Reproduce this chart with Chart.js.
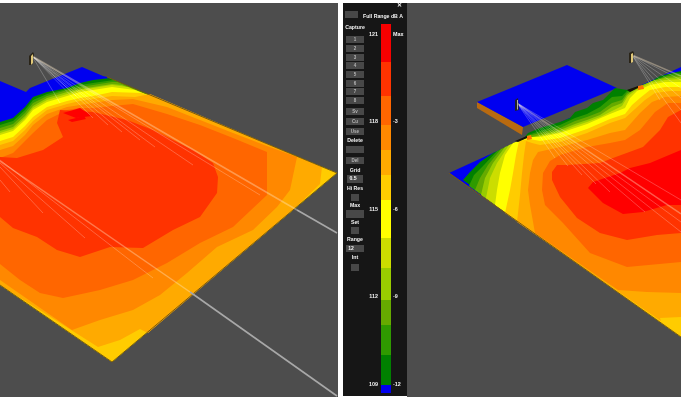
<!DOCTYPE html>
<html><head><meta charset="utf-8">
<style>html,body{margin:0;padding:0;background:#fff;overflow:hidden}#w{position:absolute;left:0;top:0;width:681px;height:400px}canvas{filter:blur(.55px)}</style>
<script src="https://cdn.jsdelivr.net/npm/chart.js@4/dist/chart.umd.min.js"></script>
</head><body><div id="w"><canvas id="c" width="681" height="400"></canvas></div>
<script>
const blue='#0000f0',g0='#008000',g1='#2f9a00',g2='#66aa00',g3='#99cc00',g4='#ccdd00',y0='#ffff00',y1='#ffcc00',a0='#ffaa00',o0='#ff8800',o1='#ff6600',r0='#ff3300',r1='#ff0000';
const panelLeft=[[0,3],[338,3],[338,397],[0,397]];
const panelRight=[[407,3],[681,3],[681,397],[407,397]];
const panelCtl=[[343,3],[407,3],[407,396],[343,396]];
// left floor
const L_blue=[[0,81],[26,92],[30,88],[82,67],[103,76],[107,77],[337,173],[112,362],[0,285]];
const L_g0=[[0,122],[13,118],[25,107],[33,97],[47,92],[67,88],[80,83],[93,80],[110,78],[337,173],[112,362],[0,285]];
const L_g1=[[0,125],[13,121],[25,110],[33,100],[47,94],[67,89],[80,85],[93,83],[114,80],[337,173],[112,362],[0,285]];
const L_g2=[[0,128],[13,124],[25,113],[33,103],[47,96],[67,90],[80,87],[93,85],[112,82],[118,82],[337,173],[112,362],[0,285]];
const L_g3=[[0,131],[13,127],[25,116],[33,106],[47,98],[67,92],[80,89],[93,87],[112,84],[122,85],[337,173],[112,362],[0,285]];
const L_g4=[[0,133],[13,129],[25,118],[33,108],[47,100],[67,94],[80,90],[93,88],[112,85],[128,87],[337,173],[112,362],[0,285]];
const L_y0=[[0,135],[13,131],[25,120],[33,110],[47,102],[67,96],[80,92],[93,90],[112,87],[135,90],[337,173],[112,362],[0,285]];
const L_y1=[[0,141],[13,137],[25,126],[33,117],[47,107],[67,101],[80,98],[93,96],[112,92],[142,93],[337,173],[112,362],[0,285]];
const L_a0=[[0,145],[13,141],[25,130],[33,121],[47,110],[67,104],[80,101],[93,99],[112,96],[135,97],[150,94],[322,167],[320,184],[293,210],[148,333],[140,329],[120,340],[98,347],[0,285]];
const L_o0=[[0,150],[13,146],[25,135],[33,125],[47,114],[67,107],[80,105],[93,103],[112,100],[133,99],[167,107],[200,120],[233,133],[267,146],[297,157],[290,190],[277,207],[253,230],[217,247],[187,273],[160,295],[133,310],[100,320],[72,330],[0,280]];
const L_o1=[[0,158],[13,153],[25,141],[33,133],[47,120],[67,110],[80,108],[93,108],[112,106],[133,104],[167,114],[200,125],[233,138],[267,152],[267,195],[233,227],[200,243],[167,263],[133,280],[100,290],[63,298],[40,293],[20,280],[0,264]];
const L_r0=[[0,157],[17,158],[43,150],[63,137],[57,123],[60,110],[93,112],[127,120],[153,130],[173,140],[193,150],[213,163],[218,177],[217,193],[200,217],[173,230],[143,248],[110,247],[80,257],[57,250],[37,237],[13,228],[0,217]];
const L_r1a=[[63,113],[80,108],[92,116],[76,118]];
const L_r1b=[[68,120],[84,116],[86,119],[72,122]];
// right floor
const R_sideA=[[477,102],[477,108],[522,135],[523,127]];
const R_plateA=[[477,102],[567,65],[617,88],[523,127]];
const R_floorA=[[449,173],[681,67],[681,337]];
const R_g0=[[463,180],[470,172],[480,162],[493,153],[523,139],[528,133],[540,128],[560,122],[570,118],[575,112],[587,108],[593,103],[603,100],[615,88],[627,90],[640,86],[650,82],[660,76],[681,71],[681,337]];
const R_g1=[[469,186],[474,175],[484,165],[497,151],[524,139],[528,135],[540,131],[560,125],[575,118],[587,114],[600,107],[612,97],[622,96],[627,91],[645,84],[660,78],[670,74],[681,73],[681,337]];
const R_g2=[[475,190],[480,178],[488,165],[501,149],[524,139],[528,136],[540,133],[560,128],[575,121],[587,117],[600,112],[612,103],[622,100],[627,93],[640,87],[655,80],[668,76],[681,75],[681,337]];
const R_g3=[[481,195],[485,178],[493,163],[505,147],[525,139],[528,138],[540,135],[560,130],[575,124],[587,120],[600,115],[612,107],[622,103],[627,95],[636,88],[652,81],[665,78],[681,77],[681,337]];
const R_g4=[[486,198],[490,178],[497,163],[509,145],[526,139],[540,136],[560,132],[575,126],[587,122],[600,117],[612,111],[622,106],[628,96],[636,90],[650,83],[665,80],[681,79],[681,337]];
const R_y0=[[495,205],[497,190],[500,173],[505,155],[513,143],[530,137],[540,137],[560,133],[587,124],[610,114],[625,108],[630,98],[637,91],[650,85],[665,82],[681,82],[681,337]];
const R_y1=[[505,213],[510,190],[513,173],[516,155],[519,141],[530,139],[540,141],[560,138],[587,129],[610,119],[625,114],[632,105],[640,98],[650,90],[665,87],[681,87],[681,337]];
const R_a0=[[517,222],[520,195],[522,173],[524,155],[526,141],[532,143],[540,145],[560,142],[587,133],[610,123],[625,118],[635,109],[645,100],[655,93],[670,91],[681,91],[681,317],[660,318],[661,321]];
const R_o0=[[535,233],[530,205],[528,190],[530,173],[533,160],[538,152],[560,147],[587,140],[610,133],[625,130],[640,113],[652,102],[665,97],[681,96],[681,293],[647,292],[618,290]];
const R_o1=[[545,205],[542,190],[543,173],[550,161],[560,155],[587,147],[610,143],[625,140],[640,130],[655,112],[668,103],[681,103],[681,262],[627,267],[590,253],[563,223]];
const R_r0=[[560,197],[552,180],[552,172],[557,165],[567,165],[600,163],[613,158],[643,147],[660,130],[668,117],[681,110],[681,233],[657,235],[627,240],[600,233],[577,218]];
const R_r1=[[588,188],[593,182],[620,173],[630,168],[650,163],[681,150],[681,205],[667,205],[643,212],[623,214],[603,203]];
const R_spot1=[[515,141],[527,136],[527,138],[518,142]];
const R_spot1o=[[527,136],[531,135],[532,139],[527,140]];
const R_spot2=[[627,90],[638,86],[638,88],[630,92]];
const R_spot2o=[[638,86],[643,85],[644,89],[638,90]];
// speakers
const S1=[[29,56],[33,52],[34,54],[32,65],[29,65]];
const S1b=[[31,56],[33,54],[33,63],[31,65]];
const S2=[[515,100],[518,98],[519,110],[515,111]];
const S2b=[[517,100],[518,100],[518,109],[517,110]];
const S3=[[629,53],[633,51],[634,53],[632,63],[629,63]];
const S3b=[[631,54],[633,53],[633,62],[631,63]];
// rays
const raysThin=[
[[32,56],[60,103]],[[32,56],[93,118]],[[32,56],[122,132]],[[32,56],[155,147]],[[32,56],[193,165]],[[32,56],[260,195]],[[32,56],[76,96]],[[32,56],[108,125]],[[32,56],[140,140]],
[[0,180],[10,192]],[[0,167],[43,213]],[[0,163],[85,238]],[[0,160],[153,278]],
[[517,103],[555,158]],[[517,103],[582,175]],[[517,103],[610,192]],[[517,103],[645,212]],[[517,103],[681,222]],[[517,103],[681,232]],[[517,103],[681,200]],[[517,103],[568,166]],[[517,103],[596,184]],
[[632,55],[660,100]],[[632,55],[681,123]],[[632,55],[681,110]],[[632,55],[681,98]],[[632,55],[681,88]],[[632,55],[681,80]]];
const raysOnFloor=[[[32,56],[297,210]],[[0,161],[190,292]],[[517,103],[681,214]],[[632,55],[681,76]]];
const raysOffFloor=[[[297,210],[337,233]],[[190,292],[337,396]]];
// color bar
const barEdges=[24,62,96,125,150,175,200,238,268,300,325,355,385,393];
const barColors=['#f70000','#ff3300','#ff6600','#ff8800','#ffaa00','#ffcc00','#ffff00','#ccdd00','#99cc00','#66aa00','#2f9a00','#008000','#0000f0'];
const barX=[381,391];
// buttons (x0,y0,x1,y1)
const btnRows=[[346,36,364,43],[346,45,364,52],[346,54,364,61],[346,62,364,69],[346,71,364,78],[346,80,364,87],[346,88,364,95],[346,97,364,104],[346,108,364,115],[346,118,364,125],[346,128,364,135],[346,146,364,153],[346,157,364,164],[347,175,363,183],[351,194,359,201],[346,210,364,218],[351,227,359,234],[346,245,364,252],[351,264,359,271],[345,11,358,18]];
// labels [text,x,y,align,size]
const labels=[['Full Range dB A',383,17,'center',5.2],['Capture',355,28,'center',5.2],['1',355,39.5,'center',4.5],['2',355,48.5,'center',4.5],['3',355,57.5,'center',4.5],['4',355,65.5,'center',4.5],['5',355,74.5,'center',4.5],['6',355,83.5,'center',4.5],['7',355,91.5,'center',4.5],['8',355,100.5,'center',4.5],['Sv',355,111.5,'center',4.5],['Cu',355,121.5,'center',4.5],['Use',355,131.5,'center',4.5],['Delete',355,141,'center',5.2],['Del',355,160.5,'center',4.5],['Grid',355,171,'center',5.2],['0.5',353,179,'center',5.2],['Hi Res',355,189,'center',5.2],['Max',355,206,'center',5.2],['Set',355,223,'center',5.2],['Range',355,240,'center',5.2],['12',351,248.5,'center',5],['Int',355,258,'center',5.2],['✕',399,5,'center',6],
['121',378,34.5,'right',5.4],['Max',393,34.5,'left',5.4],['118',378,122,'right',5.4],['-3',393,122,'left',5.4],['115',378,209.5,'right',5.4],['-6',393,209.5,'left',5.4],['112',378,297,'right',5.4],['-9',393,297,'left',5.4],['109',378,385,'right',5.4],['-12',393,385,'left',5.4]];

const toXY=a=>a.map(p=>({x:p[0],y:p[1]}));
const poly=(pts,color)=>({type:'scatter',showLine:true,data:toXY(pts.concat([pts[0]])),borderWidth:0,borderColor:color,backgroundColor:color,pointRadius:0,fill:'shape',tension:0});
const line=(pts,color,w)=>({type:'scatter',showLine:true,data:toXY(pts),borderWidth:w,borderColor:color,pointRadius:0,fill:false});
const rect=(a,color)=>poly([[a[0],a[1]],[a[2],a[1]],[a[2],a[3]],[a[0],a[3]]],color);
const layers=[
 poly(panelLeft,'#4d4d4d'),poly(panelRight,'#4d4d4d'),poly(panelCtl,'#161616'),
 poly(L_blue,blue),poly(L_g0,g0),poly(L_g1,g1),poly(L_g2,g2),poly(L_g3,g3),poly(L_g4,g4),poly(L_y0,y0),poly(L_y1,y1),poly(L_a0,a0),poly(L_o0,o0),poly(L_o1,o1),poly(L_r0,r0),poly(L_r1a,r1),poly(L_r1b,r1),
 line([[107,77],[337,173],[112,362],[0,285]],'#7a5a10',1),
 poly(R_sideA,'#b86a10'),poly(R_plateA,blue),poly(R_floorA,blue),
 poly(R_g0,g0),poly(R_g1,g1),poly(R_g2,g2),poly(R_g3,g3),poly(R_g4,g4),poly(R_y0,y0),poly(R_y1,y1),poly(R_a0,a0),poly(R_o0,o0),poly(R_o1,o1),poly(R_r0,r0),poly(R_r1,r1),
 poly(R_spot1,'#1a1208'),poly(R_spot1o,'#ff7700'),poly(R_spot2,'#1a1208'),poly(R_spot2o,'#ff7700'),
 line([[449,173],[681,337]],'#7a5a10',1),
 ...raysThin.map(r=>line(r,'rgba(255,255,255,.3)',.8)),
 ...raysOnFloor.map(r=>line(r,'rgba(255,235,200,.38)',1.5)),
 ...raysOffFloor.map(r=>line(r,'#a8a8a8',1.6)),
 poly(S1,'#2a2418'),poly(S1b,'#e0c878'),poly(S2,'#222226'),poly(S2b,'#b0b0b0'),poly(S3,'#2a2418'),poly(S3b,'#e0c878'),
 ...barColors.map((c,i)=>rect([barX[0],barEdges[i],barX[1],barEdges[i+1]],c)),
 ...btnRows.map(b=>rect(b,'#484848'))
];
const datasets=layers.reverse();
const textPlugin={id:'txt',afterDraw(ch){const c=ch.ctx,x=ch.scales.x,y=ch.scales.y;c.save();c.textBaseline='middle';
 for(const [t,a,b,al,s] of labels){c.fillStyle=s<5?'#b5b5b5':'#f2f2f2';c.font='bold '+s+'px "Liberation Sans",Arial,sans-serif';c.textAlign=al;c.fillText(t,x.getPixelForValue(a),y.getPixelForValue(b));}c.restore();}};
new Chart(document.getElementById('c'),{type:'scatter',data:{datasets},plugins:[textPlugin],options:{responsive:false,animation:false,events:[],layout:{padding:0},
 plugins:{legend:{display:false},tooltip:{enabled:false},title:{display:false}},
 scales:{x:{type:'linear',min:0,max:681,display:false},y:{type:'linear',min:0,max:400,reverse:true,display:false}}}});
</script></body></html>
